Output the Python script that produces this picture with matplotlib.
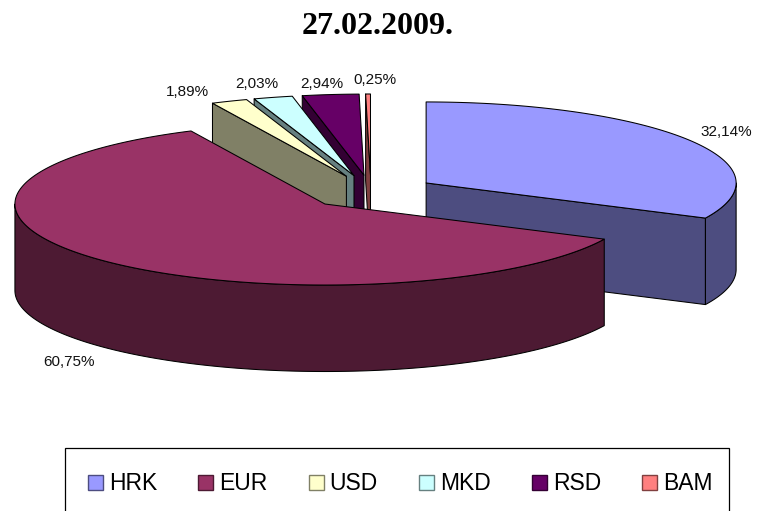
import numpy as np
import matplotlib
matplotlib.use("Agg")
import matplotlib.pyplot as plt
from matplotlib.patches import Patch, Polygon, Rectangle

title = "27.02.2009."
categories = ["HRK", "EUR", "USD", "MKD", "RSD", "BAM"]
values = [32.14, 60.75, 1.89, 2.03, 2.94, 0.25]
top_colors = ["#9999FF", "#993366", "#FFFFCC", "#CCFFFF", "#660066", "#FF8080"]
side_colors = ["#4D4D80", "#4D1A33", "#808066", "#668080", "#330033", "#804040"]

# chart geometry in pixels of the 758x511 canvas
CX, CY = 371.0, 192.0
RX, RY = 310.0, 81.0
DEPTH = 86.5
EXPLODE = 0.21
LABEL_XY = [(726, 131.5), (69, 362), (187, 91.5), (257, 83.5), (322, 83.5), (375, 80.5)]

W, H = 758, 511
fig = plt.figure(figsize=(W / 100, H / 100), dpi=100)
ax = fig.add_axes([0, 0, 1, 1])
ax.set_xlim(0, W)
ax.set_ylim(H, 0)
ax.axis("off")


def rim(cx, cy, angles, dy=0.0):
    a = np.radians(angles)
    return np.column_stack([cx + RX * np.sin(a), cy - RY * np.cos(a) + dy])


def face(points, color, z):
    ax.add_patch(Polygon(points, closed=True, facecolor=color, edgecolor="#000000",
                         linewidth=0.75, joinstyle="round", zorder=z))


total = sum(values)
edges = np.concatenate([[0.0], np.cumsum(values)]) / total * 360.0
slices = []
for i in range(len(values)):
    start, end = edges[i], edges[i + 1]
    mid = np.radians((start + end) / 2)
    cx = CX + EXPLODE * RX * np.sin(mid)
    cy = CY - EXPLODE * RY * np.cos(mid)
    slices.append((cy, i, cx, start, end))

# painter's order: slices whose apex sits higher on the canvas are drawn first
z = 1
for cy, i, cx, start, end in sorted(slices):
    apex = np.array([[cx, cy]])
    apex_low = np.array([[cx, cy + DEPTH]])
    # radial cut faces turned towards the viewer
    for ang, visible in ((start, np.sin(np.radians(start)) < -1e-6),
                         (end, np.sin(np.radians(end)) > 1e-6)):
        if visible:
            e = rim(cx, cy, [ang])
            face(np.vstack([apex, e, e + [0, DEPTH], apex_low]), side_colors[i], z)
            z += 1
    # curved outer wall (front half of the ellipse)
    lo, hi = max(start, 90.0), min(end, 270.0)
    if hi > lo:
        arc = np.linspace(lo, hi, 200)
        face(np.vstack([rim(cx, cy, arc), rim(cx, cy, arc[::-1], DEPTH)]), side_colors[i], z)
        z += 1
    # top face
    arc = np.linspace(start, end, 300)
    face(np.vstack([apex, rim(cx, cy, arc)]), top_colors[i], z)
    z += 1

for v, (x, y) in zip(values, LABEL_XY):
    ax.text(x, y, f"{v:.2f}%".replace(".", ","), ha="center", va="center",
            fontsize=11, family="Liberation Sans", color="#111111", zorder=50)

ax.text(378, 27, title, ha="center", va="center", fontsize=23, fontweight="bold",
        family="Liberation Serif", color="#000000")

# legend box runs past the bottom of the canvas
ax.add_patch(Rectangle((65, 448), 664, 80, facecolor="white", edgecolor="#000000",
                       linewidth=0.9, zorder=40))
handles = [Patch(facecolor=c, edgecolor=s, linewidth=1.0) for c, s in zip(top_colors, side_colors)]
leg = ax.legend(handles, categories, ncol=len(categories), frameon=False,
                loc="center left", bbox_to_anchor=(88 / W, 1 - 484 / H),
                bbox_transform=fig.transFigure, borderpad=0, borderaxespad=0,
                prop={"family": "Liberation Sans", "size": 16.5},
                handlelength=0.66, handleheight=0.66, handletextpad=0.25,
                columnspacing=1.80)
leg.set_zorder(60)

fig.savefig("out.png", dpi=100, facecolor="white")
